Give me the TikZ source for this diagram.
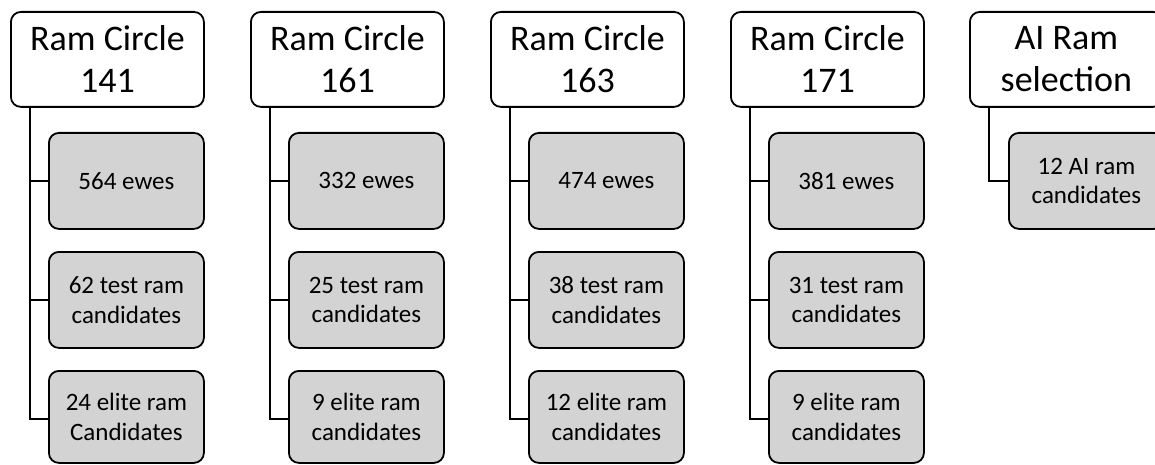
\documentclass[tikz,border=0pt]{standalone}
\usepackage{fontspec}
\setmainfont{Carlito}
\begin{document}
\begin{tikzpicture}[x=1pt,y=-1pt,
  headbox/.style={draw=black,line width=1.8pt,rounded corners=10pt,fill=white,
    anchor=north west,minimum width=193pt,minimum height=95pt,inner sep=0pt,
    align=center,font=\fontsize{36}{42}\selectfont},
  itembox/.style={draw=black,line width=1.8pt,rounded corners=10pt,fill=boxgray,
    anchor=north west,minimum width=155pt,minimum height=96pt,inner sep=0pt,
    align=center,font=\fontsize{25}{29.5}\selectfont},
  link/.style={draw=black,line width=2pt}]
\definecolor{boxgray}{RGB}{211,211,211}
\useasboundingbox (0,0) rectangle (1155,465);
% column 1
\node[headbox] (t1) at (10,11) {Ram Circle\\141};
\node[itembox] (c11) at (48,132) {564 ewes};
\node[itembox] (c12) at (48,251) {62 test ram\\candidates};
\node[itembox,minimum height=92pt] (c13) at (48,370) {24 elite ram\\Candidates};
% column 2
\node[headbox] (t2) at (250,11) {Ram Circle\\161};
\node[itembox] (c21) at (288,132) {332 ewes};
\node[itembox] (c22) at (288,251) {25 test ram\\candidates};
\node[itembox,minimum height=92pt] (c23) at (288,370) {9 elite ram\\candidates};
% column 3
\node[headbox] (t3) at (490,11) {Ram Circle\\163};
\node[itembox] (c31) at (528,132) {474 ewes};
\node[itembox] (c32) at (528,251) {38 test ram\\candidates};
\node[itembox,minimum height=92pt] (c33) at (528,370) {12 elite ram\\candidates};
% column 4
\node[headbox] (t4) at (730,11) {Ram Circle\\171};
\node[itembox] (c41) at (768,132) {381 ewes};
\node[itembox] (c42) at (768,251) {31 test ram\\candidates};
\node[itembox,minimum height=92pt] (c43) at (768,370) {9 elite ram\\candidates};
% column 5
\node[headbox] (t5) at (969,11) {AI Ram\\selection};
\node[itembox] (c51) at (1008,132) {12 AI ram\\candidates};
% connectors
\foreach \i in {1,2,3,4}{
  \coordinate (v\i) at ([xshift=19.5pt]t\i.south west);
  \draw[link] (v\i) |- ([yshift=-2pt]c\i3.west);
  \draw[link] (v\i |- c\i1.west) -- (c\i1.west);
  \draw[link] (v\i |- c\i2.west) -- (c\i2.west);
}
\coordinate (v5) at ([xshift=19.5pt]t5.south west);
\draw[link] (v5) |- (c51.west);
\end{tikzpicture}
\end{document}
